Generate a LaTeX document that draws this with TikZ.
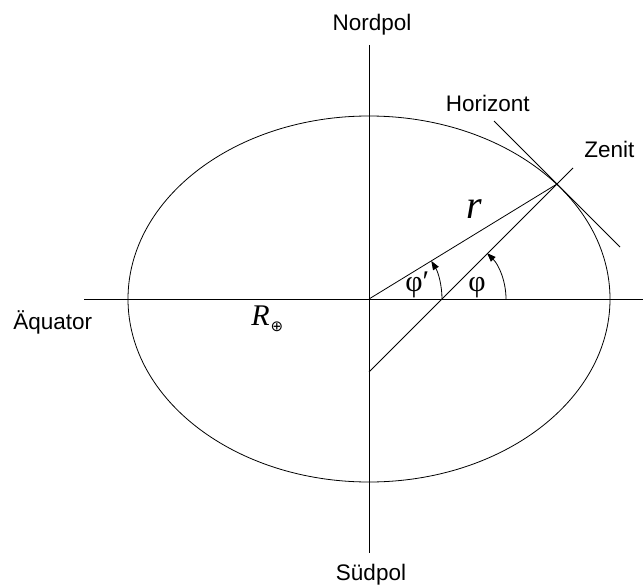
\documentclass[tikz,border=0pt]{standalone}
\usepackage{fontspec}
\setmainfont{Liberation Sans}
\newfontfamily\symfont{Liberation Serif}
\newfontfamily\dejavu{DejaVu Sans}
\usetikzlibrary{arrows.meta,positioning}

\begin{document}
\begin{tikzpicture}[x=1pt, y=-1pt, line width=0.8pt,
  lbl/.style={font=\fontsize{22.5}{27}\selectfont, inner sep=0pt},
  sym/.style={font=\symfont\fontsize{30}{36}\selectfont, inner sep=0pt},
  arr/.style={-{Triangle[length=9pt, width=6.5pt]}}]
\useasboundingbox (0,0) rectangle (643,586);
\coordinate (O) at (369,299);
\coordinate (N) at (369,45);
\coordinate (S) at (369,553);
\coordinate (W) at (84,299);
\coordinate (E) at (643,299);
\coordinate (Z) at (557,184);
\coordinate (F) at (369,372);
\coordinate (Zt) at (573,168);
\coordinate (H1) at (494,121);
\coordinate (H2) at (620,247);
\draw (O) ellipse [x radius=241pt, y radius=183pt];
\draw (N) -- (S); \draw (W) -- (E);
\draw (O) -- (Z); \draw (F) -- (Zt); \draw (H1) -- (H2);
\draw[arr] ([xshift=73pt]O) arc [start angle=0, end angle=31.5, radius=73pt];
\draw[arr] (506,299) arc [start angle=0, end angle=45, radius=65pt];
\node[lbl, anchor=base] (nord) at (372,30.7) {Nordpol};
\node[lbl, anchor=base] (sued) at (371,580) {Südpol};
\node[lbl, anchor=base west] (aeq) at (13,329) {Äquator};
\node[lbl, anchor=base east] (hor) at (530,111) {Horizont};
\node[lbl, anchor=base west] (zen) at (584,157) {Zenit};
\node[sym, font=\symfont\fontsize{40}{48}\selectfont\itshape, anchor=base west] (rad) at (466,218) {r};
\node[sym, anchor=base west] (req) at (251,325) {\itshape R\kern1pt\raisebox{-6pt}{\dejavu\upshape\fontsize{15}{16}\selectfont ⊕}};
\node[sym, anchor=base west] (phig) at (405,291) {φ′};
\node[sym, anchor=base west] (phi) at (468,291) {φ};
\end{tikzpicture}
\end{document}
